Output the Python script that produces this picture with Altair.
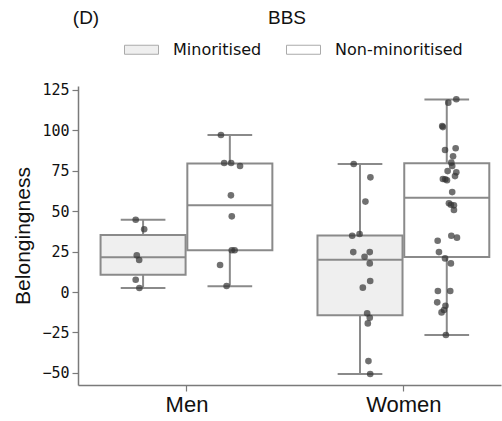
import altair as alt
import pandas as pd

groups = ["Men", "Women"]
hues = ["Minoritised", "Non-minoritised"]

# Box statistics: (group, hue, lower whisker, Q1, median, Q3, upper whisker)
box_group = ["Men", "Men", "Women", "Women"]
box_hue = ["Minoritised", "Non-minoritised", "Minoritised", "Non-minoritised"]
box_lo = [2.5, 3.5, -50.7, -26.6]
box_q1 = [10.7, 25.8, -14.4, 21.6]
box_med = [21.5, 53.6, 20.0, 58.3]
box_q3 = [35.2, 79.4, 35.0, 79.6]
box_hi = [44.7, 97.1, 79.2, 119.0]

# Individual observations (strip plot) and their horizontal jitter (in category units)
men_min_vals = [44.7, 38.8, 22.7, 19.8, 7.6, 2.5]
men_min_jit = [-0.034, 0.005, -0.029, -0.018, -0.034, -0.017]
men_non_vals = [97.1, 79.8, 79.8, 77.9, 59.8, 46.8, 25.8, 25.8, 16.7, 3.7]
men_non_jit = [-0.041, -0.026, 0.006, 0.047, 0.005, 0.009, 0.009, 0.022, -0.045, -0.015]
women_min_vals = [79.2, 70.9, 55.9, 34.8, 35.9, 24.7, 21.8, 24.7, 17.7, 6.8, 2.7,
                  -13.2, -15.9, -19.4, -42.7, -50.7]
women_min_jit = [-0.029, 0.048, 0.025, -0.036, -0.002, -0.031, 0.021, 0.045, 0.045, 0.047,
                 0.013, 0.033, 0.045, 0.036, 0.039, 0.047]
women_non_vals = [119.2, 117.1, 102.7, 102.0, 87.8, 88.9, 83.9, 80.0, 77.9, 74.8, 74.0,
                  71.7, 69.9, 69.7, 69.1, 61.8, 54.9, 54.0, 53.6, 50.7, 34.8, 33.6, 31.7,
                  24.7, 20.8, 17.7, 0.6, 0.6, -6.4, -8.5, -11.1, -12.6, -26.6]
women_non_jit = [0.044, 0.007, -0.021, -0.018, -0.008, 0.041, 0.029, 0.021, 0.025, 0.004,
                 0.044, 0.038, -0.018, -0.007, 0.001, 0.025, 0.010, 0.019, 0.033, 0.033,
                 0.021, 0.047, -0.042, -0.036, -0.008, 0.019, -0.041, 0.016, -0.044,
                 -0.006, -0.013, -0.024, -0.004]

y_ticks = [-50, -25, 0, 25, 50, 75, 100, 125]

boxes = pd.DataFrame({
    "group": box_group, "hue": box_hue, "lo": box_lo, "q1": box_q1,
    "med": box_med, "q3": box_q3, "hi": box_hi,
})

rows = []
for g, h, vals, jit in [
    ("Men", "Minoritised", men_min_vals, men_min_jit),
    ("Men", "Non-minoritised", men_non_vals, men_non_jit),
    ("Women", "Minoritised", women_min_vals, women_min_jit),
    ("Women", "Non-minoritised", women_non_vals, women_non_jit),
]:
    for v, j in zip(vals, jit):
        rows.append({"group": g, "hue": h, "value": v, "jitter": j})
points = pd.DataFrame(rows)

pos_expr = "indexof(['Men','Women'], datum.group) + (datum.hue == 'Minoritised' ? -0.2 : 0.2)"

xscale = alt.Scale(domain=[-0.5, 1.45], nice=False, zero=False)
yscale = alt.Scale(domain=[-57.5, 127.4], nice=False, zero=False)

x_axis = alt.Axis(
    values=[0, 1],
    labelExpr="datum.value == 0 ? 'Men' : 'Women'",
    title=None, grid=False, tickSize=6, labelPadding=3,
    labelFont="Liberation Sans", labelFontSize=22, labelColor="#111111",
    domainColor="#7a7a7a", tickColor="#7a7a7a", domainWidth=1.5, tickWidth=1.2,
)
y_axis = alt.Axis(
    values=y_ticks, title="Belongingness", grid=False, tickSize=6, labelPadding=3,
    labelExpr="replace(datum.label, '-', '\u2212')",
    labelFont="DejaVu Sans Mono", labelFontSize=15, labelColor="#111111",
    titleFont="Liberation Sans", titleFontSize=21, titleFontWeight="normal",
    titleColor="#111111", titlePadding=8,
    domainColor="#7a7a7a", tickColor="#7a7a7a", domainWidth=1.5, tickWidth=1.2,
)

fill_scale = alt.Scale(domain=hues, range=["#efefef", "#ffffff"])

base_box = alt.Chart(boxes).transform_calculate(pos=pos_expr)

whisker_lo = base_box.mark_rule(color="#8a8a8a", strokeWidth=2).encode(
    x=alt.X("pos:Q", scale=xscale, axis=x_axis), y=alt.Y("lo:Q", scale=yscale, axis=y_axis), y2="q1:Q")
whisker_hi = base_box.mark_rule(color="#8a8a8a", strokeWidth=2).encode(
    x="pos:Q", y="q3:Q", y2="hi:Q")

caps_lo = base_box.transform_calculate(a="datum.pos - 0.103", b="datum.pos + 0.103").mark_rule(
    color="#8a8a8a", strokeWidth=2).encode(x="a:Q", x2="b:Q", y="lo:Q")
caps_hi = base_box.transform_calculate(a="datum.pos - 0.103", b="datum.pos + 0.103").mark_rule(
    color="#8a8a8a", strokeWidth=2).encode(x="a:Q", x2="b:Q", y="hi:Q")

rects = base_box.transform_calculate(a="datum.pos - 0.196", b="datum.pos + 0.196").mark_rect(
    stroke="#8a8a8a", strokeWidth=2).encode(
    x="a:Q", x2="b:Q", y="q1:Q", y2="q3:Q",
    fill=alt.Fill("hue:N", scale=fill_scale, title=None, legend=alt.Legend(
        orient="none", legendX=46, legendY=-54, direction="horizontal", columns=2,
        symbolType="M-1,-0.265L1,-0.265L1,0.265L-1,0.265Z", symbolSize=1156,
        symbolStrokeColor="#aaaaaa", symbolStrokeWidth=1, labelOffset=14,
        columnPadding=22, labelFont="DejaVu Sans", labelFontSize=16, labelColor="#111111",
    )),
)
medians = base_box.transform_calculate(a="datum.pos - 0.196", b="datum.pos + 0.196").mark_rule(
    color="#8a8a8a", strokeWidth=2).encode(x="a:Q", x2="b:Q", y="med:Q")

dots = alt.Chart(points).transform_calculate(
    px=pos_expr + " + datum.jitter").mark_circle(size=44, color="#333333", opacity=0.7).encode(
    x="px:Q", y="value:Q")

panel_label = alt.Chart(pd.DataFrame({"t": ["(D)"]})).mark_text(
    font="Liberation Sans", fontSize=19, color="#111111", baseline="middle", align="center"
).encode(text="t:N", x=alt.value(8), y=alt.value(-68))
title_text = alt.Chart(pd.DataFrame({"t": ["BBS"]})).mark_text(
    font="Liberation Sans", fontSize=19, color="#111111", baseline="middle", align="center"
).encode(text="t:N", x=alt.value(209), y=alt.value(-68))

chart = alt.layer(
    whisker_lo, whisker_hi, caps_lo, caps_hi, rects, medians, dots, panel_label, title_text
).properties(
    width=423, height=299,
    padding={"left": 78, "top": 86, "right": 1, "bottom": 36},
    autosize=alt.AutoSizeParams(type="none"),
).configure(background="white").configure_view(stroke=None, strokeWidth=0)

chart.save("out.html", embed_options={"renderer": "svg", "actions": False})
